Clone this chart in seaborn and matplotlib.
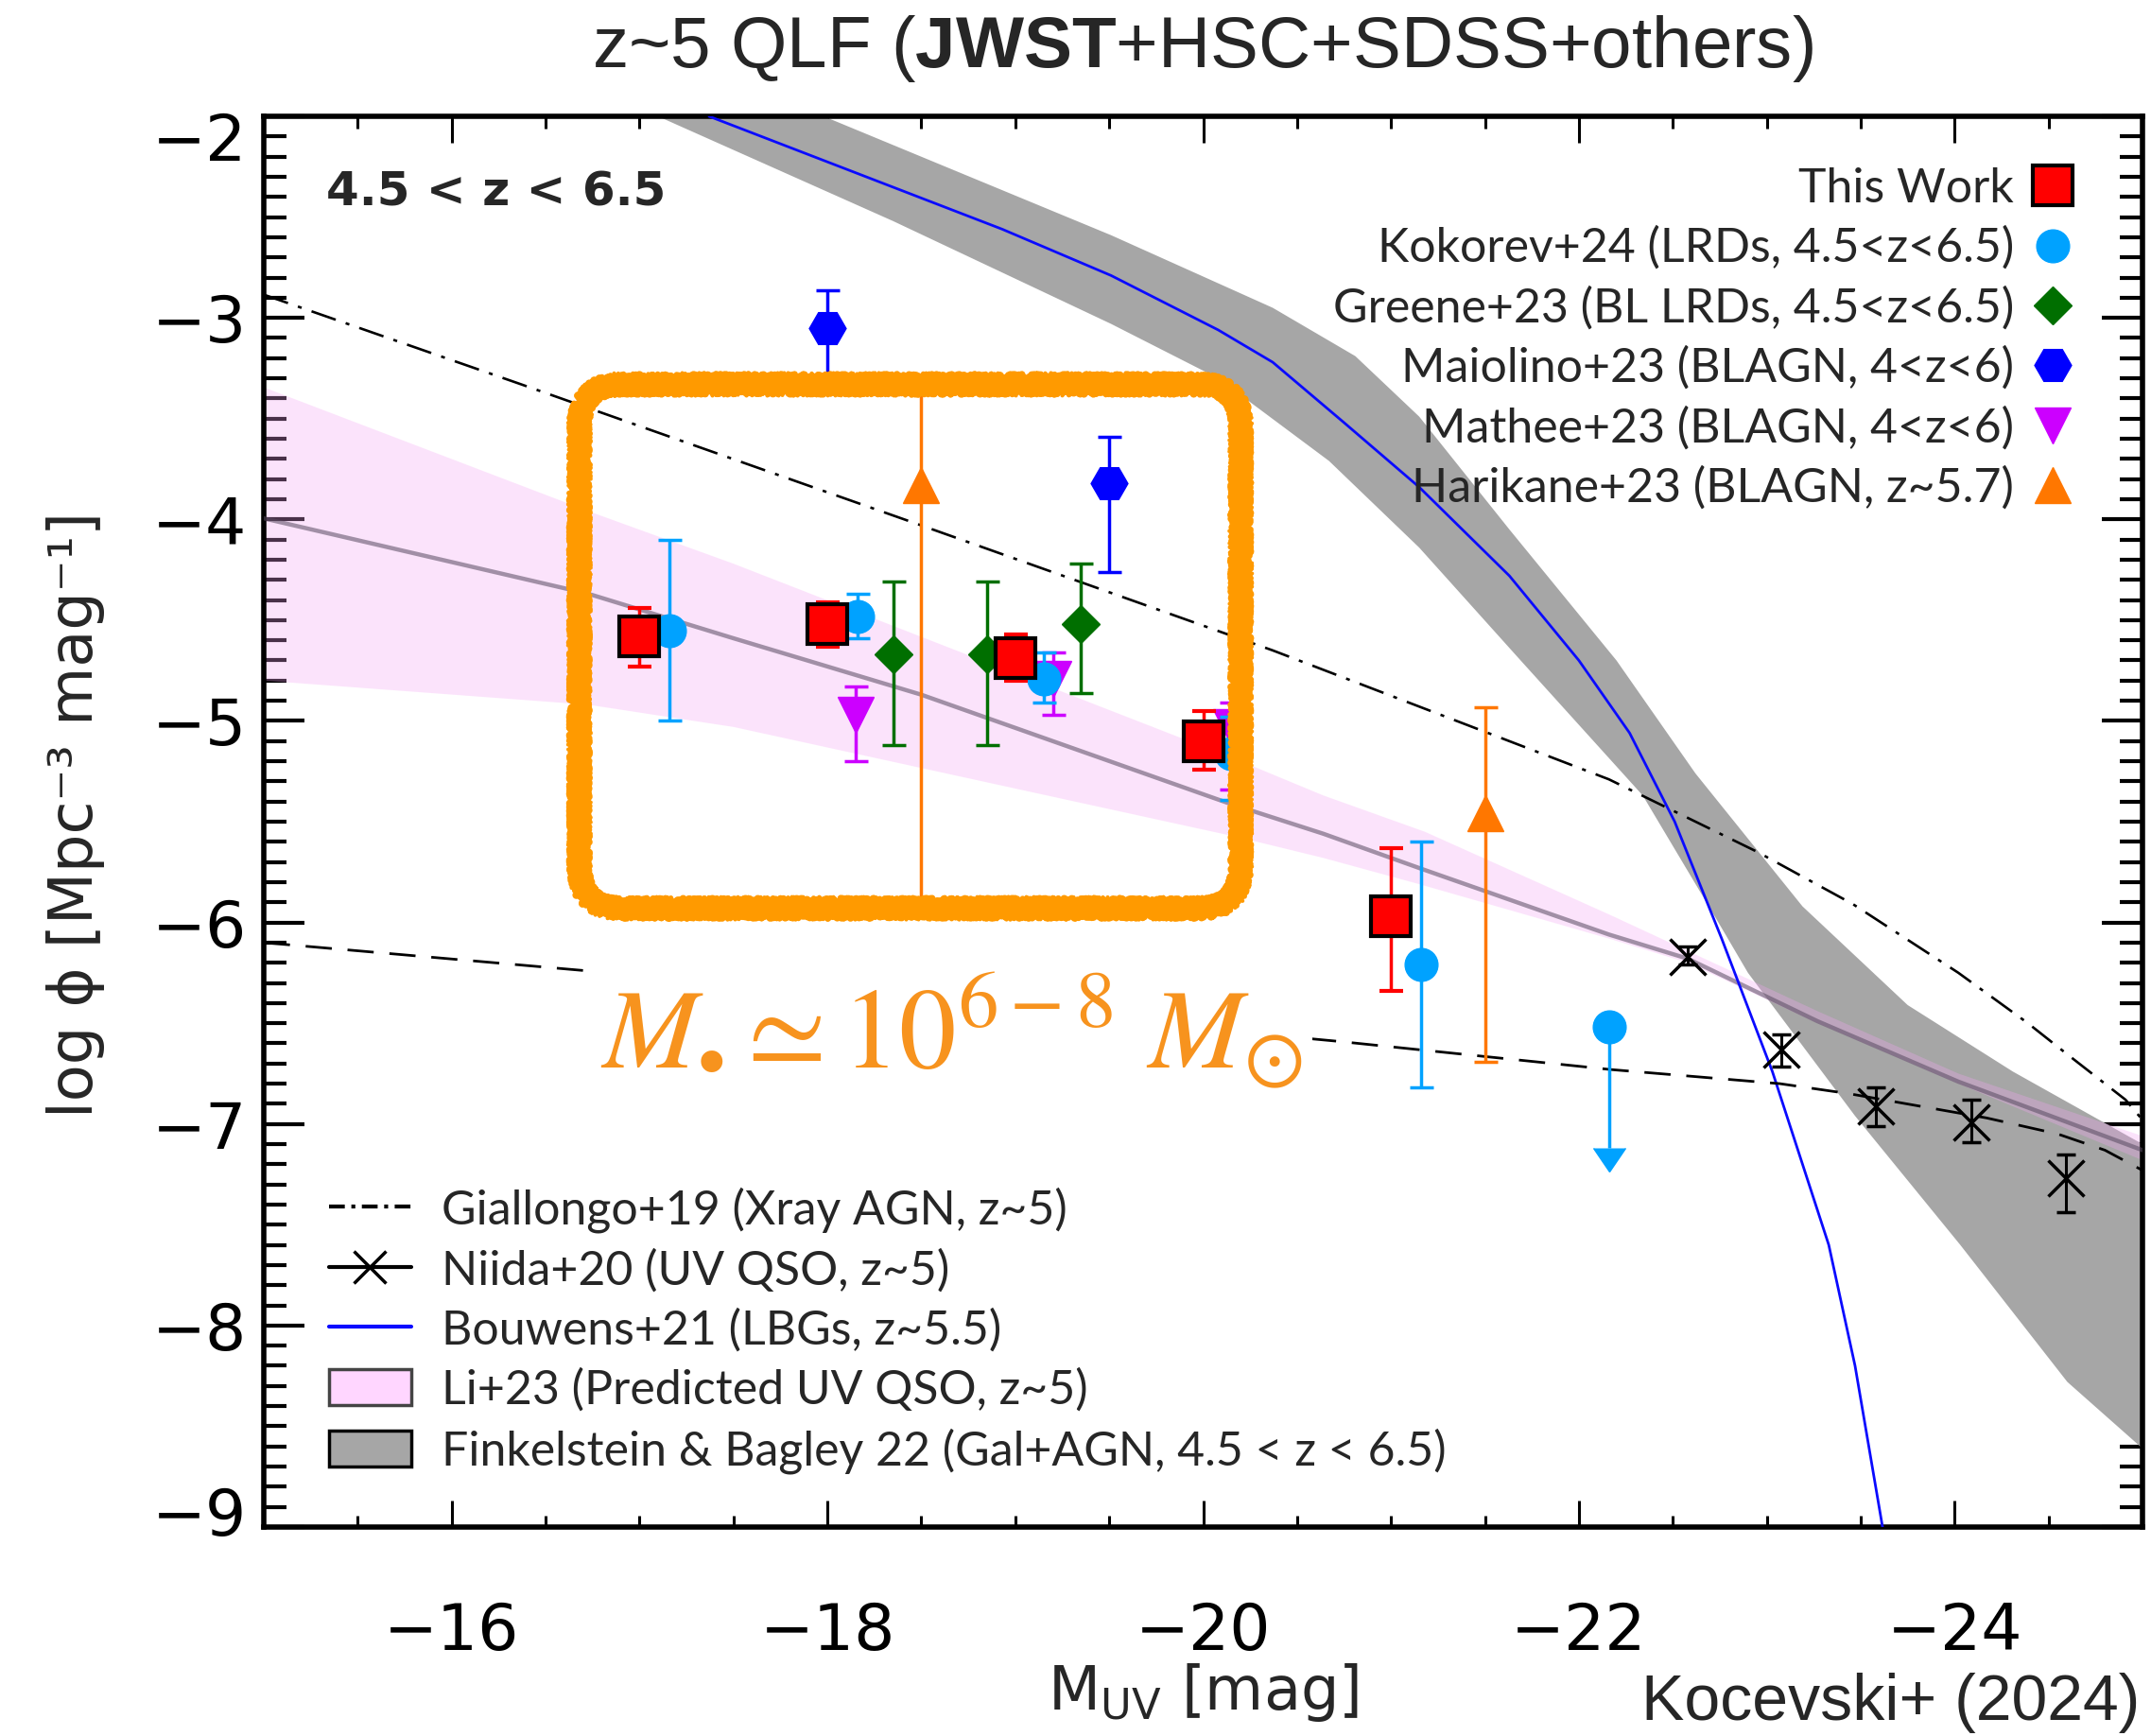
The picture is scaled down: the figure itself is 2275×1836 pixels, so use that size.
import matplotlib
matplotlib.use("Agg")
import numpy as np
import pandas as pd
import matplotlib.pyplot as plt
import matplotlib.transforms as mtransforms
import seaborn as sns
from matplotlib.lines import Line2D
from matplotlib.patches import Patch, FancyBboxPatch
from matplotlib.ticker import MultipleLocator

# ---------------- data ----------------
this_work_m = [-17.0, -18.0, -19.0, -20.0, -21.0]
this_work_phi = [-4.58, -4.52, -4.69, -5.10, -5.97]
this_work_hi = [-4.44, -4.41, -4.57, -4.95, -5.63]
this_work_lo = [-4.73, -4.63, -4.80, -5.24, -6.34]

kok_m = [-17.16, -18.16, -19.15, -20.15, -21.16]
kok_phi = [-4.55, -4.48, -4.79, -5.16, -6.21]
kok_hi = [-4.10, -4.37, -4.66, -4.98, -5.60]
kok_lo = [-5.00, -4.59, -4.91, -5.39, -6.82]
kok_ul_m = [-22.16]
kok_ul_phi = [-6.52]
kok_ul_end = [-7.12]

greene_m = [-18.35, -18.85, -19.35]
greene_phi = [-4.67, -4.67, -4.52]
greene_hi = [-4.31, -4.31, -4.22]
greene_lo = [-5.12, -5.12, -4.86]

maio_m = [-18.0, -19.5]
maio_phi = [-3.05, -3.82]
maio_hi = [-2.865, -3.59]
maio_lo = [-3.33, -4.26]

mathee_m = [-18.15, -19.20, -20.15]
mathee_phi = [-4.97, -4.79, -5.03]
mathee_hi = [-4.83, -4.66, -4.91]
mathee_lo = [-5.20, -4.97, -5.34]

hari_m = [-18.5, -21.5]
hari_phi = [-3.83, -5.46]
hari_hi = [-3.36, -4.93]
hari_lo = [-5.95, -6.69]

niida_m = [-22.58, -23.08, -23.58, -24.09, -24.59]
niida_phi = [-6.17, -6.63, -6.91, -6.99, -7.27]
niida_hi = [-6.12, -6.555, -6.82, -6.88, -7.15]
niida_lo = [-6.21, -6.715, -7.01, -7.09, -7.44]

niida_fit_m = [-15.0, -16.72, -20.72, -22.17, -23.07, -23.44, -24.17, -24.55, -24.8, -25.0]
niida_fit_phi = [-6.10, -6.24, -6.59, -6.73, -6.80, -6.85, -6.97, -7.05, -7.13, -7.23]

gial_m = [-15.0, -16.37, -18.5, -20.37, -22.16, -22.95, -23.46, -24.02, -24.39, -24.58, -24.91, -25.0]
gial_phi = [-2.885, -3.33, -4.03, -4.65, -5.29, -5.65, -5.91, -6.25, -6.50, -6.64, -6.88, -6.98]

bouw_m = [-17.37, -18.93, -19.51, -20.08, -20.37, -20.75, -21.15, -21.63, -22.0, -22.27,
          -22.51, -22.76, -23.03, -23.33, -23.47, -23.62]
bouw_phi = [-2.0, -2.56, -2.79, -3.06, -3.22, -3.52, -3.84, -4.28, -4.70, -5.06,
            -5.50, -6.08, -6.74, -7.60, -8.20, -9.02]

li_m = [-15.0, -16.73, -17.5, -18.5, -20.14, -20.64, -21.15, -22.16, -22.58, -23.27, -24.02, -25.0]
li_phi = [-3.995, -4.37, -4.59, -4.87, -5.41, -5.56, -5.73, -6.06, -6.18, -6.49, -6.79, -7.13]
li_up_m = [-15.0, -16.73, -17.5, -20.2, -20.64, -21.18, -22.16, -23.27, -24.02, -25.0]
li_up_phi = [-3.345, -3.96, -4.22, -5.20, -5.37, -5.55, -5.96, -6.44, -6.75, -7.06]
li_lo_m = [-15.0, -16.73, -17.5, -20.2, -20.64, -21.15, -22.16, -22.58, -23.27, -24.02, -25.0]
li_lo_phi = [-4.80, -4.92, -5.03, -5.58, -5.68, -5.81, -6.08, -6.20, -6.50, -6.80, -7.18]

fb_up_m = [-17.98, -19.51, -20.37, -20.81, -21.15, -21.63, -22.20, -22.62, -23.19, -23.75, -24.31, -25.0]
fb_up_phi = [-2.0, -2.59, -2.95, -3.19, -3.49, -4.05, -4.70, -5.26, -5.92, -6.41, -6.74, -7.10]
fb_lo_m = [-17.05, -18.35, -19.51, -20.08, -20.67, -21.15, -21.69, -22.34, -22.73, -22.90,
           -23.47, -24.03, -24.60, -25.0]
fb_lo_phi = [-1.98, -2.52, -3.03, -3.30, -3.71, -4.14, -4.70, -5.37, -5.98, -6.25,
             -6.96, -7.60, -8.28, -8.61]

# highlighted region (annotation box)
box_m = [-20.20, -16.68]
box_phi = [-5.93, -3.33]

top_labels = ['This Work', 'Kokorev+24 (LRDs, 4.5<z<6.5)', 'Greene+23 (BL LRDs, 4.5<z<6.5)',
              'Maiolino+23 (BLAGN, 4<z<6)', 'Mathee+23 (BLAGN, 4<z<6)', 'Harikane+23 (BLAGN, z~5.7)']
bot_labels = ['Giallongo+19 (Xray AGN, z~5)', 'Niida+20 (UV QSO, z~5)', 'Bouwens+21 (LBGs, z~5.5)',
              'Li+23 (Predicted UV QSO, z~5)', 'Finkelstein & Bagley 22 (Gal+AGN, 4.5 < z < 6.5)']

# ---------------- style ----------------
sns.set_theme(style="ticks")
plt.rcParams['font.family'] = ['DejaVu Sans']
plt.rcParams['mathtext.fontset'] = 'custom'
plt.rcParams['mathtext.rm'] = 'Liberation Sans'
plt.rcParams['mathtext.bf'] = 'Liberation Sans:bold'
plt.rcParams['mathtext.it'] = 'Liberation Sans:italic'
plt.rcParams['lines.scale_dashes'] = False
plt.rcParams['axes.unicode_minus'] = True
plt.rcParams['savefig.bbox'] = None

C_RED = '#ff0000'
C_KOK = '#00a2ff'
C_GRE = '#006f00'
C_MAI = '#0000ff'
C_MAT = '#cc00ff'
C_HAR = '#ff7700'
C_BOX = '#ff9a00'
C_MTXT = '#f7931e'

fig = plt.figure(figsize=(22.75, 18.36), dpi=100)
ax = fig.add_axes([279/2275, 1-1615/1836, (2266-279)/2275, (1615-123)/1836])
ax.set_facecolor('white')

# bands
ax.fill(np.r_[fb_up_m, fb_lo_m[::-1]], np.r_[fb_up_phi, fb_lo_phi[::-1]],
        color='#a6a6a6', lw=0, zorder=1)
ax.fill(np.r_[li_up_m, li_lo_m[::-1]], np.r_[li_up_phi, li_lo_phi[::-1]],
        color='#f5a3f5', alpha=0.3, lw=0, zorder=2)

# lines
sns.lineplot(x=li_m, y=li_phi, ax=ax, color='#584a60', alpha=0.55, lw=3.2,
             sort=False, estimator=None, zorder=3)
sns.lineplot(x=bouw_m, y=bouw_phi, ax=ax, color='#0a0aff', lw=2.0,
             sort=False, estimator=None, zorder=3)
ax.plot(gial_m, gial_phi, color='black', lw=1.9, ls=(0, (19.5, 8, 3, 8)), zorder=3)
ax.plot(niida_fit_m, niida_fit_phi, color='black', lw=2.0, ls=(0, (20, 12)), zorder=3)


def eb(m, phi, hi, lo, **kw):
    m = np.asarray(m); phi = np.asarray(phi)
    yerr = [phi - np.asarray(lo), np.asarray(hi) - phi]
    ax.errorbar(m, phi, yerr=yerr, ls='none', **kw)


eb(greene_m, greene_phi, greene_hi, greene_lo, marker='D', ms=20, color=C_GRE,
   elinewidth=2.5, capsize=9, capthick=2.5, zorder=5)
eb(maio_m, maio_phi, maio_hi, maio_lo, marker='H', ms=28, color=C_MAI,
   elinewidth=2.5, capsize=9, capthick=2.5, zorder=5)
eb(mathee_m, mathee_phi, mathee_hi, mathee_lo, marker='v', ms=27, color=C_MAT,
   elinewidth=2.5, capsize=9, capthick=2.5, zorder=5)
eb(hari_m, hari_phi, hari_hi, hari_lo, marker='^', ms=28, color=C_HAR,
   elinewidth=2.5, capsize=9, capthick=2.5, zorder=5)
eb(kok_m, kok_phi, kok_hi, kok_lo, marker='o', ms=25, color=C_KOK,
   elinewidth=2.5, capsize=9, capthick=2.5, zorder=6)
ax.errorbar(kok_ul_m, kok_ul_phi,
            yerr=[np.asarray(kok_ul_phi) - np.asarray(kok_ul_end), np.zeros(1)],
            uplims=True, ls='none', marker='o', ms=25, color=C_KOK,
            elinewidth=2.5, capsize=12, zorder=6)
eb(this_work_m, this_work_phi, this_work_hi, this_work_lo, marker='s', ms=30,
   mfc=C_RED, mec='black', mew=3, ecolor=C_RED, elinewidth=2.5, capsize=9,
   capthick=2.5, zorder=8)
eb(niida_m, niida_phi, niida_hi, niida_lo, marker='x', ms=28, mew=2.5, color='black',
   elinewidth=2.2, capsize=7, capthick=2.2, zorder=7)

# highlighted box with a hand-drawn look
box_strokes = [(12, None), (6, (10, 3, 4)), (5, (9, 2, 6)), (4, (11, 4, 3)),
               (4, (8, 2.5, 8)), (3, (12, 2, 5))]
for lw_, sk in box_strokes:
    bx = FancyBboxPatch((box_m[0], box_phi[0]), box_m[1] - box_m[0], box_phi[1] - box_phi[0],
                        boxstyle='round,pad=0,rounding_size=0.22', mutation_aspect=0.94,
                        fill=False, ec=C_BOX, lw=lw_, zorder=9, joinstyle='round')
    if sk is not None:
        bx.set_sketch_params(*sk)
    ax.add_patch(bx)

ax.text(-18.66, -6.72, r'$M_{\bullet}\simeq10^{6-8}\ M_{\odot}$', math_fontfamily='stix',
        fontsize=87, color=C_MTXT, ha='center', va='baseline', zorder=4,
        bbox=dict(fc='white', ec='none', pad=8))

ax.text(0.033, 0.946, '4.5 < z < 6.5', transform=ax.transAxes, fontweight='bold',
        fontsize=36, va='center', ha='left')

# axes
ax.set_xlim(-15, -25)
ax.set_ylim(-9, -2)
ax.xaxis.set_major_locator(MultipleLocator(2))
ax.xaxis.set_minor_locator(MultipleLocator(0.5))
ax.yaxis.set_major_locator(MultipleLocator(1))
ax.yaxis.set_minor_locator(MultipleLocator(0.1))
ax.tick_params(which='both', direction='in', top=True, right=True, colors='black')
ax.xaxis.set_tick_params(which='major', length=20, width=2.2, pad=56, labelsize=49)
ax.xaxis.set_tick_params(which='minor', length=9, width=2.2)
ax.yaxis.set_tick_params(which='major', length=31, width=3, pad=13, labelsize=49)
ax.yaxis.set_tick_params(which='minor', length=17, width=3)
for s in ax.spines.values():
    s.set_linewidth(4)
    s.set_color('black')
    s.set_visible(True)

ax.set_xlabel('M$_{\\mathregular{UV}}$ [mag]', fontsize=46)
ax.xaxis.set_label_coords(0.5, -0.117)
ax.xaxis.label.set_va('center')
ax.set_ylabel('log ϕ [Mpc⁻³ mag⁻¹]', fontsize=46)
ax.yaxis.set_label_coords(-0.100, 0.505)
ax.yaxis.label.set_va('center')

# legends
top_handles = [
    Line2D([], [], ls='none', marker='s', ms=30, mfc=C_RED, mec='black', mew=3),
    Line2D([], [], ls='none', marker='o', ms=25, color=C_KOK),
    Line2D([], [], ls='none', marker='D', ms=20, color=C_GRE),
    Line2D([], [], ls='none', marker='H', ms=28, color=C_MAI),
    Line2D([], [], ls='none', marker='v', ms=27, color=C_MAT),
    Line2D([], [], ls='none', marker='^', ms=28, color=C_HAR),
]
leg1 = ax.legend(top_handles, top_labels, loc='upper right', bbox_to_anchor=(0.9648, 0.964),
                 frameon=False, markerfirst=False, prop={'family': 'Lato', 'size': 36},
                 handlelength=1.0, handletextpad=0.32, labelspacing=0.335,
                 borderpad=0, borderaxespad=0)
ax.add_artist(leg1)

bot_handles = [
    Line2D([], [], color='black', lw=3, ls=(0, (12, 5, 3, 5))),
    Line2D([], [], color='black', lw=3, marker='x', ms=24, mew=2.5),
    Line2D([], [], color='#0a0aff', lw=3),
    Patch(facecolor='#ffd6ff', edgecolor='#444444', lw=2.5),
    Patch(facecolor='#a6a6a6', edgecolor='black', lw=2.5),
]
leg2 = ax.legend(bot_handles, bot_labels, loc='lower left', bbox_to_anchor=(0.0347, 0.0378),
                 frameon=False, prop={'family': 'Lato', 'size': 36},
                 handlelength=1.74, handletextpad=0.64, labelspacing=0.33, handleheight=0.78,
                 borderpad=0, borderaxespad=0)

# title & credit
fig.text(0.5593, 0.972, 'z~5 QLF ($\\mathbf{JWST}$+HSC+SDSS+others)', ha='center', va='center',
         fontsize=55, family='Liberation Sans')
fig.text(0.995, 0.019, 'Kocevski+ (2024)', ha='right', va='center', fontsize=49,
         family='Liberation Sans')

# end labels of the y axis sit just inside the frame, as in the reference
fig.canvas.draw()
y_lo, y_hi = ax.get_ylim()
for t in ax.yaxis.get_major_ticks():
    loc = t.get_loc()
    if abs(loc - y_hi) < 1e-6:
        t.label1.set_transform(t.label1.get_transform() +
                               mtransforms.ScaledTranslation(0, -0.21, fig.dpi_scale_trans))
    elif abs(loc - y_lo) < 1e-6:
        t.label1.set_transform(t.label1.get_transform() +
                               mtransforms.ScaledTranslation(0, 0.17, fig.dpi_scale_trans))

fig.savefig('out.png', dpi=100, facecolor='white')
